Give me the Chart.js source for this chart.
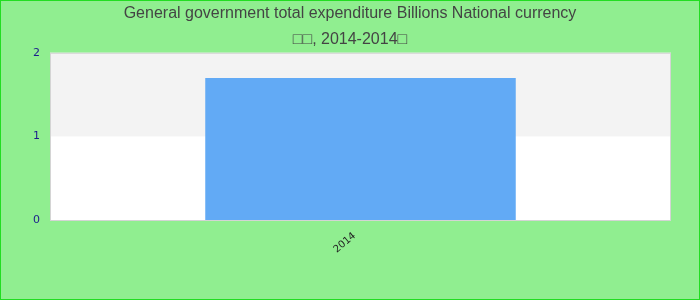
<!DOCTYPE html>
<html>
<head>
<meta charset="utf-8">
<script src="https://cdn.jsdelivr.net/npm/chart.js"></script>
<style>
  html, body { margin: 0; padding: 0; background: #90ee90; }
  #wrap { width: 700px; height: 300px; position: relative; }
</style>
</head>
<body>
<div id="wrap"><canvas id="chart"></canvas></div>
<script>
// data
const categories = ["2014"];
const expenditure = [1.70];
const yTicks = [0, 1, 2];
const titleLines = ["General government total expenditure Billions National currency", "\u25A1\u25A1, 2014-2014\u25A1"];

// background, bands and frame
const backdrop = {
    id: "backdrop",
    beforeDraw(chart) {
        const c = chart.ctx, a = chart.chartArea, y = chart.scales.y;
        c.save();
        c.fillStyle = "#90ee90";
        c.fillRect(0, 0, chart.width, chart.height);
        c.fillStyle = "#ffffff";
        c.fillRect(a.left, a.top, a.right - a.left, a.bottom - a.top);
        // alternate band between ticks 1 and 2
        const t = y.getPixelForValue(yTicks[2]), b = y.getPixelForValue(yTicks[1]);
        c.fillStyle = "#f3f3f3";
        c.fillRect(a.left, t, a.right - a.left, b - t);
        c.restore();
    },
    afterDraw(chart) {
        const c = chart.ctx, a = chart.chartArea;
        c.save();
        c.strokeStyle = "#d4d4d4";
        c.lineWidth = 1;
        c.strokeRect(a.left + 0.5, a.top + 0.5, a.right - a.left - 1, a.bottom - a.top);
        c.strokeStyle = "#22dd22";
        c.strokeRect(0.5, 0.5, chart.width - 1, chart.height - 1);
        c.restore();
    }
};

new Chart(document.getElementById("chart"), {
    type: "bar",
    data: {
        labels: categories,
        datasets: [{
            data: expenditure,
            backgroundColor: "#62aaf5",
            borderWidth: 0,
            barPercentage: 0.5,
            categoryPercentage: 1
        }]
    },
    options: {
        responsive: true,
        maintainAspectRatio: false,
        animation: false,
        layout: { padding: 0 },
        plugins: {
            legend: { display: false },
            tooltip: { enabled: false },
            title: {
                display: true,
                text: titleLines,
                color: "#444444",
                font: { family: "Liberation Sans, Arial, sans-serif", size: 16, weight: "normal", lineHeight: 1.65 },
                padding: { top: 0, bottom: 0 }
            }
        },
        scales: {
            y: {
                min: 0,
                max: 2,
                afterBuildTicks(scale) { scale.ticks = yTicks.map(v => ({ value: v })); },
                afterFit(scale) { scale.width = 50; },
                grid: { display: false, drawTicks: false },
                border: { display: false },
                ticks: {
                    color: "#1c1c8c",
                    padding: 10,
                    font: { family: "DejaVu Sans, sans-serif", size: 11 }
                }
            },
            // empty right gutter so the title stays centred on the canvas
            gutter: {
                position: "right",
                afterFit(scale) { scale.width = 29; },
                grid: { display: false, drawTicks: false },
                border: { display: false },
                ticks: { display: false }
            },
            x: {
                afterFit(scale) { scale.height = 80; },
                grid: { display: false },
                border: { display: false },
                ticks: {
                    color: "#222222",
                    maxRotation: 40,
                    minRotation: 40,
                    padding: 2,
                    labelOffset: -6,
                    font: { family: "DejaVu Sans, sans-serif", size: 10 }
                }
            }
        }
    },
    plugins: [backdrop]
});
</script>
</body>
</html>
